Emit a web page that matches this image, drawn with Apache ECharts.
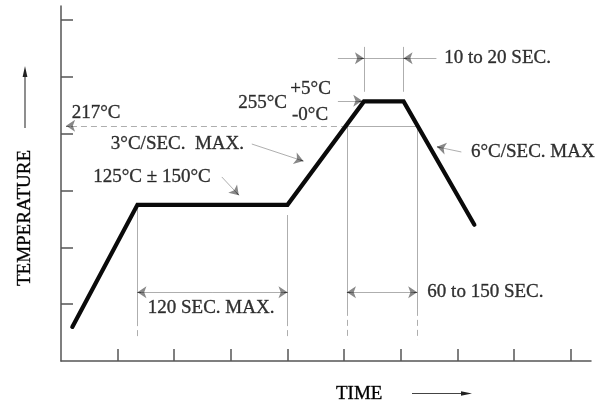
<!DOCTYPE html>
<html>
<head>
<meta charset="utf-8">
<script src="https://cdn.jsdelivr.net/npm/echarts@6/dist/echarts.min.js"></script>
<style>html,body{margin:0;padding:0;background:#fff}#c{width:608px;height:404px}</style>
</head>
<body>
<div id="c"></div>
<script>
// ---- data (abstract axis units: 1 unit = one tick) ----
const profileX = [0.2, 1.35, 4.0, 5.35, 6.05, 7.3];
const profileY = [0.6, 2.75, 2.75, 4.57, 4.57, 2.4];
const xTicks = [1, 2, 3, 4, 5, 6, 7, 8, 9];
const yTicks = [1, 2, 3, 4, 5, 6];
const liquidusY = 4.14;          // 217°C level
const liquidusX = [5.05, 6.29];  // time above liquidus (60 to 150 SEC.)
const soakX = [1.35, 4.0];       // 120 SEC. MAX.
const soakY = 2.75;
const peakX = [5.35, 6.05];      // 10 to 20 SEC.
const peakY = 4.57;
const dimY = 1.21;               // lower dimension lines
const topDimY = 5.33;            // upper dimension line
const labelTexts = ['217°C', '255°C', '+5°C', '-0°C', '10 to 20 SEC.', '3°C/SEC.  MAX.', '125°C ± 150°C', '6°C/SEC. MAX', '120 SEC. MAX.', '60 to 150 SEC.'];
const labelX = [0.19, 3.99, 4.05, 4.08, 6.77, 0.88, 0.57, 7.24, 2.65, 6.47];
const labelY = [4.37, 4.54, 4.79, 4.33, 5.33, 3.82, 3.24, 3.68, 0.93, 1.21];
const labelAlign = ['left', 'right', 'left', 'left', 'left', 'left', 'left', 'left', 'center', 'left'];

const FONT = 'Liberation Serif';
const TXT = '#000';
const THIN = '#5e5e5e';

const solid = { color: THIN, width: 1, type: 'solid' };
const dashed = { color: THIN, width: 1, type: [6, 4] };

function seg(a, b, style) { return { coords: [a, b], lineStyle: style }; }

const plainSegs = [
  seg([liquidusX[0], liquidusY], [liquidusX[1], liquidusY], solid),
  seg([liquidusX[0], liquidusY], [liquidusX[0], 0.9], solid),
  seg([liquidusX[0], 0.9], [liquidusX[0], 0.37], dashed),
  seg([liquidusX[1], liquidusY], [liquidusX[1], 0.9], solid),
  seg([liquidusX[1], 0.9], [liquidusX[1], 0.37], dashed),
  seg([soakX[0], soakY], [soakX[0], 0.72], solid),
  seg([soakX[0], 0.72], [soakX[0], 0.37], dashed),
  seg([soakX[1], soakY - 0.18], [soakX[1], 0.72], solid),
  seg([soakX[1], 0.72], [soakX[1], 0.37], dashed),
  seg([peakX[0], 5.53], [peakX[0], 4.74], solid),
  seg([peakX[1], 5.53], [peakX[1], 4.74], solid),
  seg([peakX[0], topDimY], [peakX[1], topDimY], solid)
];
const arrowSegs = [
  seg([4.89, topDimY], [peakX[0], topDimY], solid),
  seg([6.63, topDimY], [peakX[1], topDimY], solid),
  seg([4.89, peakY + 0.01], [peakX[0] - 0.03, peakY + 0.01], solid),
  seg([2.67, dimY], [soakX[0], dimY], solid),
  seg([2.67, dimY], [soakX[1], dimY], solid),
  seg([5.67, dimY], [liquidusX[0], dimY], solid),
  seg([5.67, dimY], [liquidusX[1], dimY], solid),
  seg([3.37, 3.82], [4.28, 3.52], solid),
  seg([2.84, 3.24], [3.14, 2.92], solid),
  seg([7.07, 3.68], [6.64, 3.77], solid),
  seg([liquidusX[0], liquidusY], [0.09, liquidusY], dashed)
];
// short black pieces at each arrow tip, carrying the filled arrowheads
const headSegs = arrowSegs.map(s => {
  const a = s.coords[0], b = s.coords[1];
  const dx = b[0] - a[0], dy = b[1] - a[1];
  const L = Math.sqrt(dx * dx + dy * dy);
  const k = 0.06 / L;
  return { coords: [[b[0] - dx * k, b[1] - dy * k], b] };
});

const labelData = labelTexts.map((t, i) => ({
  value: [labelX[i], labelY[i]],
  name: t,
  label: { align: labelAlign[i] }
}));

const chart = echarts.init(document.getElementById('c'), null, { renderer: 'canvas' });
chart.setOption({
  animation: false,
  backgroundColor: '#fff',
  grid: { left: 61, right: 17, top: 6, bottom: 43 },
  xAxis: {
    type: 'value', min: 0, max: 9.36,
    axisLine: { lineStyle: { color: '#555', width: 1.5 } },
    axisTick: { show: true, inside: true, length: 12, customValues: xTicks, lineStyle: { color: '#555', width: 1.5 } },
    axisLabel: { show: false },
    splitLine: { show: false }
  },
  yAxis: {
    type: 'value', min: 0, max: 6.25,
    axisLine: { show: true, lineStyle: { color: '#555', width: 1.5 } },
    axisTick: { show: true, inside: true, length: 12, customValues: yTicks, lineStyle: { color: '#555', width: 1.5 } },
    axisLabel: { show: false },
    splitLine: { show: false }
  },
  series: [
    {
      type: 'lines', coordinateSystem: 'cartesian2d', polyline: false,
      symbol: 'none', data: plainSegs.concat(arrowSegs), z: 2, silent: true
    },
    {
      type: 'lines', coordinateSystem: 'cartesian2d', polyline: false,
      symbol: ['none', 'arrow'], symbolSize: [4.5, 9], data: headSegs, z: 3, silent: true,
      lineStyle: { color: '#111', width: 1 }
    },
    {
      type: 'line', data: profileX.map((x, i) => [x, profileY[i]]),
      showSymbol: false, symbol: 'none', z: 5,
      lineStyle: { color: '#0a0a0a', width: 4.2, cap: 'round', join: 'miter' }
    },
    {
      type: 'scatter', data: labelData, symbolSize: 0, z: 6, silent: true,
      label: {
        show: true, position: [0, 0], verticalAlign: 'middle',
        formatter: p => p.name,
        fontFamily: FONT, fontSize: 19, color: TXT,
        textBorderColor: '#333', textBorderWidth: 0.4
      }
    }
  ],
  graphic: [
    { type: 'text', x: 25, y: 218, rotation: Math.PI / 2,
      style: { text: 'TEMPERATURE', font: '19px "Liberation Serif"', fill: TXT, stroke: '#333', lineWidth: 0.4, align: 'center', verticalAlign: 'middle' } },
    { type: 'line', shape: { x1: 25, y1: 128, x2: 25, y2: 74 }, style: { stroke: '#444', lineWidth: 1.2 } },
    { type: 'polygon', shape: { points: [[25, 66], [22.6, 77], [27.4, 77]] }, style: { fill: '#222' } },
    { type: 'text', x: 336, y: 394,
      style: { text: 'TIME', font: '19px "Liberation Serif"', fill: TXT, stroke: '#333', lineWidth: 0.4, align: 'left', verticalAlign: 'middle' } },
    { type: 'line', shape: { x1: 412, y1: 393.5, x2: 464, y2: 393.5 }, style: { stroke: '#444', lineWidth: 1.2 } },
    { type: 'polygon', shape: { points: [[472, 393.5], [461, 391.2], [461, 395.8]] }, style: { fill: '#222' } }
  ]
});
</script>
</body>
</html>
